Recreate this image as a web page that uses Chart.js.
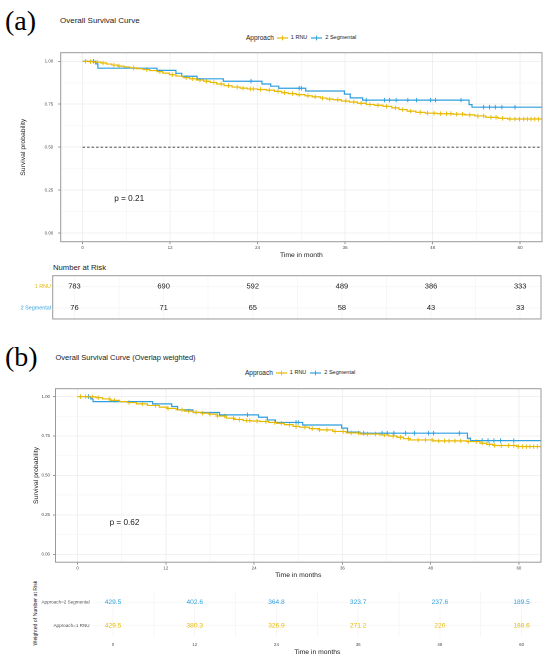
<!DOCTYPE html>
<html><head><meta charset="utf-8">
<script src="https://cdn.jsdelivr.net/npm/chart.js@4.4.1/dist/chart.umd.min.js"></script>
<style>
html,body{margin:0;padding:0;background:#fff;}
body{width:550px;height:662px;position:relative;overflow:hidden;font-family:"Liberation Sans",Arial,sans-serif;color:#1a1a1a;}
canvas{position:absolute;left:0;}
.t{position:absolute;white-space:nowrap;line-height:1;}
.tag{font-family:"Liberation Serif","DejaVu Serif",serif;font-size:28px;color:#000;}
.leg{position:absolute;white-space:nowrap;display:flex;align-items:center;height:8px;line-height:1;}
.leg svg{display:block;}
.rot{position:absolute;white-space:nowrap;line-height:1;transform:translate(-50%,-50%) rotate(-90deg);}
</style></head>
<body>
<div class="t tag" style="left:5px;top:7px;">(a)</div>
<div class="t" style="left:60px;top:17px;font-size:8px;">Overall Survival Curve</div>
<div class="leg" style="left:246px;top:34px;">
  <span style="font-size:6.5px;margin-right:3px;">Approach</span>
  <svg width="11" height="6"><line x1="0" y1="3" x2="11" y2="3" stroke="#E7B800" stroke-width="1.2"/><line x1="5.5" y1="0.6" x2="5.5" y2="5.4" stroke="#E7B800" stroke-width="0.9"/></svg>
  <span style="font-size:5.5px;margin:0 4px 0 3px;">1 RNU</span>
  <svg width="11" height="6"><line x1="0" y1="3" x2="11" y2="3" stroke="#2E9FDF" stroke-width="1.2"/><line x1="5.5" y1="0.6" x2="5.5" y2="5.4" stroke="#2E9FDF" stroke-width="0.9"/></svg>
  <span style="font-size:5.5px;margin-left:3px;">2 Segmental</span>
</div>
<div class="t" style="left:53px;top:263.5px;font-size:7.7px;">Number at Risk</div>

<div class="t tag" style="left:5px;top:343px;">(b)</div>
<div class="t" style="left:55.5px;top:354px;font-size:7.5px;">Overall Survival Curve (Overlap weighted)</div>
<div class="leg" style="left:245px;top:369px;">
  <span style="font-size:6.5px;margin-right:3px;">Approach</span>
  <svg width="11" height="6"><line x1="0" y1="3" x2="11" y2="3" stroke="#E7B800" stroke-width="1.2"/><line x1="5.5" y1="0.6" x2="5.5" y2="5.4" stroke="#E7B800" stroke-width="0.9"/></svg>
  <span style="font-size:5.5px;margin:0 4px 0 3px;">1 RNU</span>
  <svg width="11" height="6"><line x1="0" y1="3" x2="11" y2="3" stroke="#2E9FDF" stroke-width="1.2"/><line x1="5.5" y1="0.6" x2="5.5" y2="5.4" stroke="#2E9FDF" stroke-width="0.9"/></svg>
  <span style="font-size:5.5px;margin-left:3px;">2 Segmental</span>
</div>
<div class="rot" style="left:36px;top:613px;font-size:5.2px;">Weighted of Number at Risk</div>

<canvas id="plotA" width="550" height="262" style="top:0px;"></canvas>
<canvas id="tableA" width="550" height="62" style="top:262px;"></canvas>
<canvas id="plotB" width="550" height="252" style="top:330px;"></canvas>
<canvas id="tableB" width="550" height="77" style="top:585px;"></canvas>

<script>
// ---------------- data ----------------
const GOLD = '#E7B800', BLUE = '#2E9FDF';
const riskMonths = [0, 12, 24, 36, 48, 60];
const xTicks = [0, 6, 12, 18, 24, 30, 36, 42, 48, 54, 60];
const yTicks = [0, 0.125, 0.25, 0.375, 0.5, 0.625, 0.75, 0.875, 1];

// Panel (a): Kaplan-Meier, 1 RNU
const rnuTimesA = [0, 0.8, 1.6, 2.5, 3.3, 4.0, 4.8, 5.7, 6.5, 7.4, 8.3, 9.2, 10.2, 11.0, 11.9, 12.8, 13.8, 14.7, 15.6, 16.6, 17.5, 18.4, 19.4, 20.5, 21.6, 22.6, 24.0, 25.2, 26.3, 27.3, 28.2, 29.3, 30.5, 31.5, 32.6, 33.5, 34.4, 35.5, 36.6, 37.7, 38.9, 40.0, 41.2, 42.4, 43.4, 44.5, 45.7, 47.0, 48.6, 50.8, 52.4, 53.8, 55.3, 57.0, 58.3];
const rnuSurvA  = [1, 0.998, 0.995, 0.990, 0.984, 0.978, 0.972, 0.967, 0.962, 0.957, 0.952, 0.946, 0.940, 0.931, 0.922, 0.914, 0.905, 0.898, 0.891, 0.884, 0.877, 0.868, 0.858, 0.850, 0.844, 0.839, 0.836, 0.832, 0.825, 0.817, 0.812, 0.806, 0.799, 0.793, 0.786, 0.780, 0.776, 0.769, 0.763, 0.756, 0.749, 0.744, 0.738, 0.729, 0.719, 0.710, 0.703, 0.698, 0.695, 0.692, 0.688, 0.682, 0.674, 0.668, 0.664];
// Panel (a): 2 Segmental
const segTimes  = [0, 1.8, 2.1, 10.2, 12.8, 13.6, 15.7, 19.3, 24.6, 25.8, 26.9, 30.6, 35.9, 36.7, 38.4, 53.0, 53.4];
const segSurvA  = [1, 0.985, 0.960, 0.947, 0.930, 0.913, 0.898, 0.884, 0.868, 0.855, 0.843, 0.827, 0.809, 0.787, 0.774, 0.748, 0.733];

// Panel (b): overlap weighted
const rnuTimesB = [0, 1.2, 2.5, 3.4, 4.5, 5.7, 6.8, 8.0, 9.5, 11.1, 12.2, 13.4, 14.5, 15.7, 16.8, 17.9, 19.0, 20.2, 21.3, 22.5, 23.6, 24.8, 26.0, 27.0, 28.1, 29.3, 30.2, 31.5, 32.9, 34.7, 36.5, 38.4, 41.1, 42.3, 43.4, 44.3, 45.2, 48.4, 52.9, 54.7, 55.6, 56.5, 59.7];
const rnuSurvB  = [1, 0.998, 0.993, 0.985, 0.976, 0.968, 0.962, 0.954, 0.944, 0.933, 0.925, 0.916, 0.908, 0.900, 0.895, 0.889, 0.877, 0.863, 0.855, 0.848, 0.845, 0.842, 0.836, 0.831, 0.822, 0.811, 0.806, 0.797, 0.789, 0.779, 0.770, 0.763, 0.757, 0.750, 0.742, 0.733, 0.725, 0.719, 0.715, 0.705, 0.697, 0.690, 0.683];
const segSurvB  = [1, 0.985, 0.968, 0.954, 0.937, 0.916, 0.899, 0.884, 0.869, 0.852, 0.836, 0.820, 0.800, 0.775, 0.768, 0.736, 0.721];

// Censoring times (same patients in both panels)
const rnuCensor = [0.4, 1.1, 2.0, 2.8, 4.3, 5.0, 7.0, 8.8, 10.6, 12.3, 14.2, 15.1, 16.1, 17.0, 18.0, 19.0, 20.0, 21.2, 22.0, 23.0, 23.4, 24.4, 25.6, 26.8, 27.7, 28.8, 29.7, 30.9, 31.9, 32.9, 33.9, 35.0, 36.1, 37.2, 38.2, 39.4, 40.5, 41.7, 42.9, 43.9, 45.0, 46.3, 47.3, 48.2, 49.1, 49.9, 50.5, 51.3, 52.1, 53.1, 54.2, 55.0, 56.0, 56.7, 57.6, 58.6, 59.3, 59.9, 60.5, 61.0, 61.5, 62.0, 62.5];
const segCensor = [1.5, 23.1, 29.7, 30.0, 38.9, 41.4, 42.1, 43.0, 44.6, 45.8, 47.7, 48.4, 51.9, 55.0, 55.8, 56.6, 57.5, 59.3];
const followEnd = 63;

// Risk tables
const riskRnuA = [783, 690, 592, 489, 386, 333];
const riskSegA = [76, 71, 65, 58, 43, 33];
const wRiskSegB = [429.5, 402.6, 364.8, 323.7, 237.6, 189.5];
const wRiskRnuB = [429.5, 380.3, 326.9, 271.2, 220, 188.6];
const pValueA = 'p = 0.21';
const pValueB = 'p = 0.62';

// ---------------- helpers ----------------
const FF = '"Liberation Sans", Arial, sans-serif';
Chart.defaults.font.family = FF;
Chart.defaults.color = '#4d4d4d';

function stepPts(ts, ss) {
  const p = ts.map((t, i) => ({x: t, y: ss[i]}));
  p.push({x: followEnd, y: ss[ss.length - 1]});
  return p;
}
function survAt(ts, ss, t) {
  let s = ss[0];
  for (let i = 0; i < ts.length; i++) if (ts[i] <= t) s = ss[i];
  return s;
}
function censorPts(cs, ts, ss) { return cs.map(t => ({x: t, y: survAt(ts, ss, t)})); }
const isMajorX = v => Math.abs(v % 12) < 1e-6;
const isMajorY = v => Math.abs(v * 4 - Math.round(v * 4)) < 1e-6;

const frame = {
  id: 'frame',
  afterDatasetsDraw(chart, args, opts) {
    const {left, top, right, bottom} = chart.chartArea;
    const ctx = chart.ctx;
    ctx.save();
    ctx.strokeStyle = opts.color || '#9a9a9a';
    ctx.lineWidth = opts.width || 1;
    ctx.strokeRect(left, top, right - left, bottom - top);
    ctx.restore();
  }
};
const pval = {
  id: 'pval',
  afterDatasetsDraw(chart, args, opts) {
    if (!opts.text) return;
    const ctx = chart.ctx;
    ctx.save();
    ctx.font = opts.size + 'px ' + FF;
    ctx.fillStyle = '#1a1a1a';
    ctx.textAlign = 'left';
    ctx.textBaseline = 'middle';
    ctx.fillText(opts.text, chart.scales.x.getPixelForValue(opts.x), chart.scales.y.getPixelForValue(opts.y));
    ctx.restore();
  }
};
const riskText = {
  id: 'riskText',
  afterDatasetsDraw(chart) {
    const ctx = chart.ctx;
    chart.data.datasets.forEach((ds, i) => {
      const meta = chart.getDatasetMeta(i);
      ctx.save();
      ctx.font = ds.textSize + 'px ' + FF;
      ctx.fillStyle = ds.textColor;
      ctx.textAlign = 'center';
      ctx.textBaseline = 'middle';
      meta.data.forEach((el, j) => ctx.fillText(String(ds.values[j]), el.x, el.y));
      ctx.restore();
    });
  }
};

function survChart(id, cfg) {
  const datasets = [
    {data: stepPts(cfg.rnuT, cfg.rnuS), showLine: true, stepped: 'before', borderColor: GOLD, borderWidth: 1.2, pointRadius: 0},
    {data: stepPts(segTimes, cfg.segS), showLine: true, stepped: 'before', borderColor: BLUE, borderWidth: 1.2, pointRadius: 0},
    {data: censorPts(rnuCensor, cfg.rnuT, cfg.rnuS), showLine: false, pointStyle: 'cross', pointRadius: 2.3, borderColor: GOLD, borderWidth: 0.9},
    {data: censorPts(segCensor, segTimes, cfg.segS), showLine: false, pointStyle: 'cross', pointRadius: 2.3, borderColor: BLUE, borderWidth: 0.9}
  ];
  if (cfg.median) datasets.push({data: [{x: 0, y: 0.5}, {x: followEnd, y: 0.5}], showLine: true, borderColor: '#333', borderWidth: 0.9, borderDash: [2.5, 2], pointRadius: 0});
  return new Chart(document.getElementById(id), {
    type: 'scatter',
    data: {datasets},
    options: {
      responsive: false, animation: false, devicePixelRatio: 2,
      events: [],
      layout: {padding: {left: 0, top: cfg.top, right: cfg.right, bottom: 0}},
      plugins: {legend: {display: false}, tooltip: {enabled: false}, frame: {}, pval: {text: cfg.p, x: 4.35, y: 0.2, size: 8.2}},
      scales: {
        x: {
          type: 'linear', min: -3, max: 63,
          afterBuildTicks: a => { a.ticks = xTicks.map(v => ({value: v})); },
          afterFit: s => { s.height = cfg.xH; },
          ticks: {autoSkip: false, maxRotation: 0, padding: 1, font: {size: 4.4}, color: '#4d4d4d', callback: v => isMajorX(v) ? String(v) : ''},
          grid: {color: c => isMajorX(c.tick.value) ? '#e6e6e6' : '#f3f3f3', lineWidth: 0.6, tickLength: 2.5, tickColor: c => isMajorX(c.tick.value) ? '#555' : 'rgba(0,0,0,0)', tickWidth: 0.6},
          border: {display: false},
          title: {display: true, text: cfg.xTitle, color: '#1a1a1a', font: {size: 6.8}, padding: {top: 0, bottom: cfg.xTitlePad}}
        },
        y: {
          type: 'linear', min: -0.05, max: 1.05,
          afterBuildTicks: a => { a.ticks = yTicks.map(v => ({value: v})); },
          afterFit: s => { s.width = cfg.yW; },
          ticks: {autoSkip: false, padding: cfg.yPad, font: {size: 4.4}, color: '#4d4d4d', callback: v => isMajorY(v) ? v.toFixed(2) : ''},
          grid: {color: c => isMajorY(c.tick.value) ? '#e6e6e6' : '#f3f3f3', lineWidth: 0.6, tickLength: 2.5, tickColor: c => isMajorY(c.tick.value) ? '#555' : 'rgba(0,0,0,0)', tickWidth: 0.6},
          border: {display: false},
          title: {display: true, text: 'Survival probability', color: '#1a1a1a', font: {size: 6.8}, padding: {top: cfg.yTitlePad, bottom: 0}}
        }
      }
    },
    plugins: [frame, pval]
  });
}

survChart('plotA', {rnuT: rnuTimesA, rnuS: rnuSurvA, segS: segSurvA, median: true, p: pValueA,
  top: 52.7, right: 8, xH: 20.3, yW: 60.7, yPad: 5, xTitle: 'Time in month', xTitlePad: 3, yTitlePad: 19.2});
survChart('plotB', {rnuT: rnuTimesB, rnuS: rnuSurvB, segS: segSurvB, median: false, p: pValueB,
  top: 58.7, right: 9, xH: 19.8, yW: 55.5, yPad: 3, xTitle: 'Time in months', xTitlePad: 3, yTitlePad: 31.9});

// ----- Table (a): number at risk -----
const rowsA = ['1 RNU', '2 Segmental'];
new Chart(document.getElementById('tableA'), {
  type: 'scatter',
  data: {datasets: [
    {data: riskMonths.map(m => ({x: m, y: rowsA[0]})), values: riskRnuA, textColor: '#1a1a1a', textSize: 7.5, pointRadius: 0},
    {data: riskMonths.map(m => ({x: m, y: rowsA[1]})), values: riskSegA, textColor: '#1a1a1a', textSize: 7.5, pointRadius: 0}
  ]},
  options: {
    responsive: false, animation: false, devicePixelRatio: 2, events: [],
    layout: {padding: {left: 0, top: 13.7, right: 9, bottom: 4.7}},
    plugins: {legend: {display: false}, tooltip: {enabled: false}, frame: {}},
    scales: {
      x: {type: 'linear', min: -2.93, max: 62.8,
        afterBuildTicks: a => { a.ticks = xTicks.map(v => ({value: v})); },
        afterFit: s => { s.height = 0; },
        ticks: {display: false}, grid: {color: '#f1f1f1', lineWidth: 0.6, drawTicks: false}, border: {display: false}},
      y: {type: 'category', labels: rowsA, offset: true,
        afterFit: s => { s.width = 52.7; },
        ticks: {padding: 1.8, font: {size: 5.4}, color: c => c.index === 0 ? GOLD : BLUE},
        grid: {color: '#f1f1f1', lineWidth: 0.6, drawTicks: false, offset: false}, border: {display: false}}
    }
  },
  plugins: [frame, riskText]
});

// ----- Table (b): weighted number at risk -----
const rowsB = ['Approach=2 Segmental', 'Approach=1 RNU'];
new Chart(document.getElementById('tableB'), {
  type: 'scatter',
  data: {datasets: [
    {data: riskMonths.map(m => ({x: m, y: rowsB[0]})), values: wRiskSegB, textColor: BLUE, textSize: 6.6, pointRadius: 0},
    {data: riskMonths.map(m => ({x: m, y: rowsB[1]})), values: wRiskRnuB, textColor: GOLD, textSize: 6.6, pointRadius: 0}
  ]},
  options: {
    responsive: false, animation: false, devicePixelRatio: 2, events: [],
    layout: {padding: {left: 0, top: 3.5, right: 8, bottom: 0}},
    plugins: {legend: {display: false}, tooltip: {enabled: false}},
    scales: {
      x: {type: 'linear', min: -3, max: 63,
        afterBuildTicks: a => { a.ticks = xTicks.map(v => ({value: v})); },
        afterFit: s => { s.height = 24.9; },
        ticks: {autoSkip: false, maxRotation: 0, padding: 5.3, font: {size: 4.4}, color: '#4d4d4d', callback: v => isMajorX(v) ? String(v) : ''},
        grid: {color: '#f1f1f1', lineWidth: 0.6, drawTicks: false}, border: {display: false},
        title: {display: true, text: 'Time in months', color: '#1a1a1a', font: {size: 6.8}, padding: {top: 0, bottom: 5.8}}},
      y: {type: 'category', labels: rowsB, offset: true,
        afterFit: s => { s.width = 92.6; },
        ticks: {padding: 3, font: {size: 4.6}, color: '#4d4d4d'},
        grid: {color: '#f1f1f1', lineWidth: 0.6, drawTicks: false, offset: false}, border: {display: false}}
    }
  },
  plugins: [riskText]
});
</script>
</body></html>
